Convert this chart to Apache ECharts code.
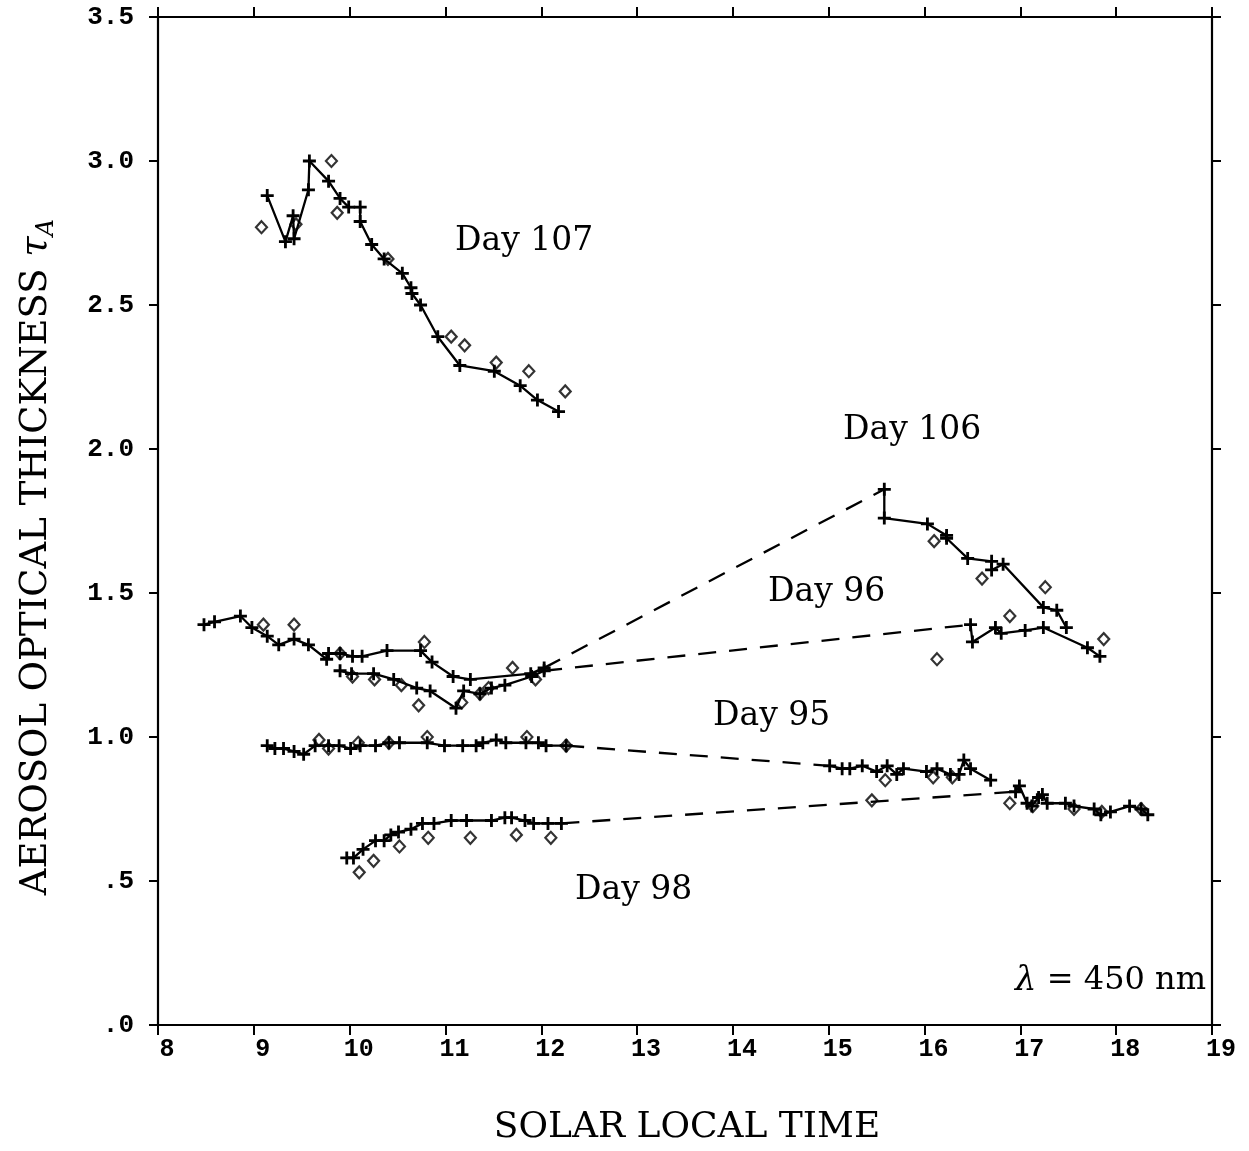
<!DOCTYPE html>
<html>
<head>
<meta charset="utf-8">
<script src="https://cdn.jsdelivr.net/npm/echarts@6/dist/echarts.min.js"></script>
<style>
html,body{margin:0;padding:0;background:#fff;}
#chart{width:1249px;height:1151px;}
</style>
</head>
<body>
<div id="chart"></div>
<script>
// ---- tick labels ----
const xTickLabels = ['8','9','10','11','12','13','14','15','16','17','18','19'];
const yTickLabels = ['.0','.5','1.0','1.5','2.0','2.5','3.0','3.5'];

// ---- Day 107 ----
const day107Time = [9.14, 9.33, 9.41, 9.42, 9.57, 9.58, 9.78, 9.90, 9.99, 10.11, 10.11, 10.23, 10.36, 10.55, 10.64, 10.65, 10.74, 10.92, 11.15, 11.51, 11.78, 11.96, 12.18];
const day107Tau  = [2.88, 2.72, 2.81, 2.73, 2.90, 3.00, 2.93, 2.87, 2.84, 2.84, 2.79, 2.71, 2.66, 2.61, 2.56, 2.54, 2.50, 2.39, 2.29, 2.27, 2.22, 2.17, 2.13];
const day107DiaTime = [9.08, 9.44, 9.81, 9.87, 10.40, 11.06, 11.20, 11.53, 11.87, 12.25];
const day107DiaTau  = [2.77, 2.78, 3.00, 2.82, 2.66, 2.39, 2.36, 2.30, 2.27, 2.20];

// ---- Day 106 ----
const day106AmTime = [8.48, 8.59, 8.86, 8.98, 9.14, 9.26, 9.42, 9.57, 9.76, 9.78, 9.90, 10.03, 10.13, 10.39, 10.74, 10.86, 11.08, 11.26, 11.89, 12.03];
const day106AmTau  = [1.39, 1.40, 1.42, 1.38, 1.35, 1.32, 1.34, 1.32, 1.27, 1.29, 1.29, 1.28, 1.28, 1.30, 1.30, 1.26, 1.21, 1.20, 1.22, 1.24];
const day106PmTime = [15.58, 15.58, 16.03, 16.23, 16.23, 16.45, 16.70, 16.70, 16.82, 17.24, 17.38, 17.48];
const day106PmTau  = [1.86, 1.76, 1.74, 1.70, 1.69, 1.62, 1.61, 1.58, 1.60, 1.45, 1.44, 1.38];
const day106DiaTime = [9.10, 9.42, 9.90, 10.78, 11.70, 16.10, 16.60, 17.26];
const day106DiaTau  = [1.39, 1.39, 1.29, 1.33, 1.24, 1.68, 1.55, 1.52];

// ---- Day 96 ----
const day96AmTime = [9.90, 10.02, 10.25, 10.46, 10.70, 10.84, 11.11, 11.19, 11.36, 11.48, 11.62, 11.90, 12.03];
const day96AmTau  = [1.23, 1.22, 1.22, 1.20, 1.17, 1.16, 1.10, 1.16, 1.15, 1.17, 1.18, 1.21, 1.23];
const day96PmTime = [16.48, 16.50, 16.74, 16.80, 17.05, 17.24, 17.70, 17.83];
const day96PmTau  = [1.39, 1.33, 1.38, 1.36, 1.37, 1.38, 1.31, 1.28];
const day96DiaTime = [10.03, 10.26, 10.54, 10.72, 11.17, 11.36, 11.45, 11.94, 16.13, 16.89, 17.87];
const day96DiaTau  = [1.21, 1.20, 1.18, 1.11, 1.12, 1.15, 1.17, 1.20, 1.27, 1.42, 1.34];

// ---- Day 95 ----
const day95AmTime = [9.14, 9.22, 9.31, 9.42, 9.52, 9.64, 9.78, 9.89, 10.01, 10.11, 10.27, 10.41, 10.52, 10.81, 10.99, 11.18, 11.32, 11.39, 11.53, 11.63, 11.84, 11.97, 12.05, 12.26];
const day95AmTau  = [0.97, 0.96, 0.96, 0.95, 0.94, 0.97, 0.97, 0.97, 0.96, 0.97, 0.97, 0.98, 0.98, 0.98, 0.97, 0.97, 0.97, 0.98, 0.99, 0.98, 0.98, 0.98, 0.97, 0.97];
const day95PmTime = [15.01, 15.14, 15.22, 15.35, 15.50, 15.61, 15.71, 15.78, 16.02, 16.13, 16.27, 16.36, 16.41, 16.48, 16.69];
const day95PmTau  = [0.90, 0.89, 0.89, 0.90, 0.88, 0.90, 0.87, 0.89, 0.88, 0.89, 0.87, 0.87, 0.92, 0.89, 0.85];
const day95DiaTime = [9.68, 9.78, 10.09, 10.41, 10.81, 11.85, 12.26, 15.59, 16.09, 16.29];
const day95DiaTau  = [0.99, 0.96, 0.98, 0.98, 1.00, 1.00, 0.97, 0.85, 0.86, 0.86];

// ---- Day 98 ----
const day98AmTime = [9.97, 10.04, 10.14, 10.27, 10.36, 10.43, 10.51, 10.64, 10.76, 10.88, 11.06, 11.22, 11.48, 11.62, 11.69, 11.83, 11.92, 12.07, 12.21];
const day98AmTau  = [0.58, 0.58, 0.61, 0.64, 0.64, 0.66, 0.67, 0.68, 0.70, 0.70, 0.71, 0.71, 0.71, 0.72, 0.72, 0.71, 0.70, 0.70, 0.70];
const day98PmTime = [16.95, 16.99, 17.07, 17.12, 17.19, 17.23, 17.28, 17.47, 17.56, 17.77, 17.84, 17.94, 18.14, 18.26, 18.33];
const day98PmTau  = [0.81, 0.83, 0.77, 0.76, 0.79, 0.80, 0.77, 0.77, 0.76, 0.75, 0.73, 0.74, 0.76, 0.75, 0.73];
const day98DiaTime = [10.10, 10.25, 10.52, 10.82, 11.26, 11.74, 12.10, 15.45, 16.89, 17.13, 17.56, 17.85, 18.26];
const day98DiaTau  = [0.53, 0.57, 0.62, 0.65, 0.65, 0.66, 0.65, 0.78, 0.77, 0.76, 0.75, 0.74, 0.75];

// ---- helpers ----
const zip = (xs, ys) => xs.map((x, i) => [x, ys[i]]);
const PLUS = 'path://M4.7,0H7.3V4.7H12V7.3H7.3V12H4.7V7.3H0V4.7H4.7Z';
const INK = '#000';

function solid(name, xs, ys) {
  return {
    type: 'line', name, data: zip(xs, ys),
    symbol: PLUS, symbolSize: 13, showSymbol: true, showAllSymbol: true,
    itemStyle: { color: INK },
    lineStyle: { color: INK, width: 2.3 },
    z: 3, animation: false
  };
}
function dashed(name, amX, amY, pmX, pmY) {
  const a = [amX[amX.length - 1], amY[amY.length - 1]];
  const b = [pmX[0], pmY[0]];
  return {
    type: 'line', name, data: [a, b], symbol: 'none',
    lineStyle: { color: INK, width: 2.3, type: [18, 13] },
    z: 2, animation: false
  };
}
function diamonds(name, xs, ys) {
  return {
    type: 'scatter', name, data: zip(xs, ys),
    symbol: 'diamond', symbolSize: [11, 12],
    itemStyle: { color: 'rgba(255,255,255,0)', borderColor: INK, borderWidth: 2.2 },
    z: 4, animation: false
  };
}

const chart = echarts.init(document.getElementById('chart'), null, { renderer: 'canvas' });

const monoFont = 'Liberation Mono';
const serif = 'DejaVu Serif';

const option = {
  backgroundColor: '#ffffff',
  animation: false,
  textStyle: { fontFamily: serif },
  grid: { left: 158, right: 37, top: 17, bottom: 126, containLabel: false },
  xAxis: [
    {
      type: 'value', position: 'bottom', min: 8, max: 19, interval: 1,
      axisLine: { show: true, onZero: false, lineStyle: { color: INK, width: 2.2 } },
      axisTick: { show: true, length: 10, inside: false, lineStyle: { color: INK, width: 2 } },
      axisLabel: {
        show: true, margin: 12, color: INK, fontFamily: monoFont, fontSize: 25, fontWeight: 'bold',
        padding: [0, 0, 0, 18],
        formatter: (v) => xTickLabels[Math.round(v - 8)]
      },
      splitLine: { show: false }
    },
    {
      type: 'value', position: 'top', min: 8, max: 19, interval: 1,
      axisLine: { show: true, onZero: false, lineStyle: { color: INK, width: 2.2 } },
      axisTick: { show: true, length: 10, inside: false, lineStyle: { color: INK, width: 2 } },
      axisLabel: { show: false },
      splitLine: { show: false }
    }
  ],
  yAxis: [
    {
      type: 'value', position: 'left', min: 0, max: 3.5, interval: 0.5,
      axisLine: { show: true, onZero: false, lineStyle: { color: INK, width: 2.2 } },
      axisTick: { show: true, length: 9, inside: false, lineStyle: { color: INK, width: 2 } },
      axisLabel: {
        show: true, margin: 24, color: INK, fontFamily: monoFont, fontSize: 26, fontWeight: 'bold',
        formatter: (v) => yTickLabels[Math.round(v * 2)]
      },
      splitLine: { show: false }
    },
    {
      type: 'value', position: 'right', min: 0, max: 3.5, interval: 0.5,
      axisLine: { show: true, onZero: false, lineStyle: { color: INK, width: 2.2 } },
      axisTick: { show: true, length: 9, inside: false, lineStyle: { color: INK, width: 2 } },
      axisLabel: { show: false },
      splitLine: { show: false }
    }
  ],
  series: [
    solid('Day 107', day107Time, day107Tau),
    diamonds('Day 107 ◇', day107DiaTime, day107DiaTau),

    solid('Day 106 AM', day106AmTime, day106AmTau),
    dashed('Day 106 gap', day106AmTime, day106AmTau, day106PmTime, day106PmTau),
    solid('Day 106 PM', day106PmTime, day106PmTau),
    diamonds('Day 106 ◇', day106DiaTime, day106DiaTau),

    solid('Day 96 AM', day96AmTime, day96AmTau),
    dashed('Day 96 gap', day96AmTime, day96AmTau, day96PmTime, day96PmTau),
    solid('Day 96 PM', day96PmTime, day96PmTau),
    diamonds('Day 96 ◇', day96DiaTime, day96DiaTau),

    solid('Day 95 AM', day95AmTime, day95AmTau),
    dashed('Day 95 gap', day95AmTime, day95AmTau, day95PmTime, day95PmTau),
    solid('Day 95 PM', day95PmTime, day95PmTau),
    diamonds('Day 95 ◇', day95DiaTime, day95DiaTau),

    solid('Day 98 AM', day98AmTime, day98AmTau),
    dashed('Day 98 gap', day98AmTime, day98AmTau, day98PmTime, day98PmTau),
    solid('Day 98 PM', day98PmTime, day98PmTau),
    diamonds('Day 98 ◇', day98DiaTime, day98DiaTau)
  ],
  graphic: [
    { type: 'text', x: 455, y: 241, style: { text: 'Day 107', fill: INK, font: '33px "DejaVu Serif"', verticalAlign: 'middle', align: 'left' } },
    { type: 'text', x: 843, y: 430, style: { text: 'Day 106', fill: INK, font: '33px "DejaVu Serif"', verticalAlign: 'middle', align: 'left' } },
    { type: 'text', x: 768, y: 592, style: { text: 'Day 96', fill: INK, font: '33px "DejaVu Serif"', verticalAlign: 'middle', align: 'left' } },
    { type: 'text', x: 713, y: 716, style: { text: 'Day 95', fill: INK, font: '33px "DejaVu Serif"', verticalAlign: 'middle', align: 'left' } },
    { type: 'text', x: 575, y: 890, style: { text: 'Day 98', fill: INK, font: '33px "DejaVu Serif"', verticalAlign: 'middle', align: 'left' } },
    {
      type: 'text', x: 1206, y: 981,
      style: {
        text: '{l|λ} = 450 nm', fill: INK, font: '32px "DejaVu Serif"', verticalAlign: 'middle', align: 'right',
        rich: { l: { fontFamily: serif, fontSize: 34, fontStyle: 'italic' } }
      }
    },
    {
      type: 'text', x: 687, y: 1128,
      style: { text: 'SOLAR LOCAL TIME', fill: INK, font: '36px "DejaVu Serif"', verticalAlign: 'middle', align: 'center' }
    },
    {
      type: 'text', x: 36, y: 557, rotation: Math.PI / 2,
      style: {
        text: 'AEROSOL OPTICAL THICKNESS {t|τ}{s|A}', fill: INK, font: '37px "DejaVu Serif"',
        verticalAlign: 'middle', align: 'center',
        rich: {
          t: { fontFamily: serif, fontSize: 37, fontStyle: 'italic', lineHeight: 46 },
          s: { fontFamily: serif, fontSize: 24, fontStyle: 'italic', verticalAlign: 'bottom', lineHeight: 46, padding: [11, 0, 0, 0] }
        }
      }
    }
  ]
};
chart.setOption(option);
</script>
</body>
</html>
